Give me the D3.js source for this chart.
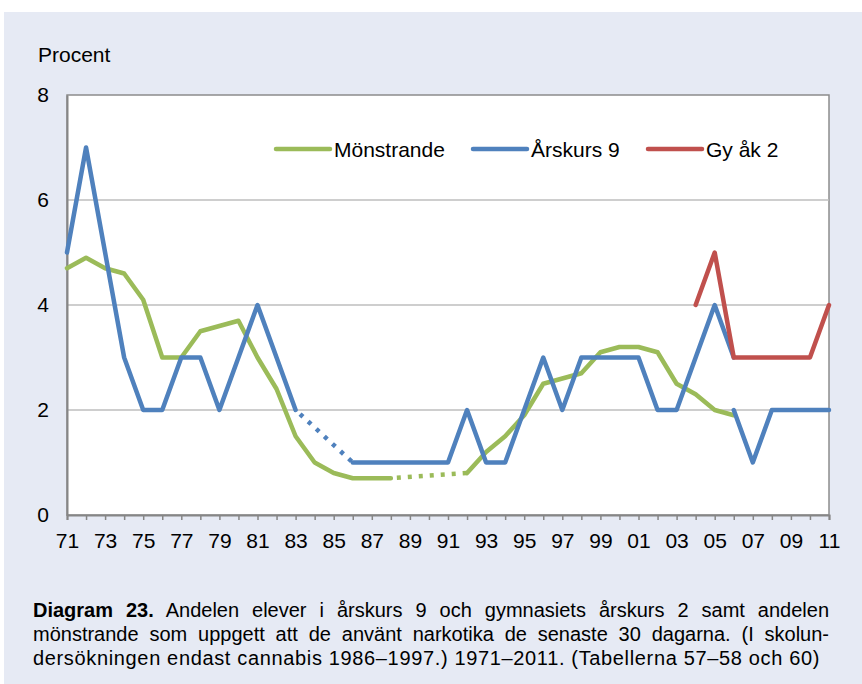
<!DOCTYPE html>
<html>
<head>
<meta charset="utf-8">
<script src="https://cdn.jsdelivr.net/npm/d3@7"></script>
<style>
  body { margin: 0; background: #fff; }
  text { font-family: "Liberation Sans", Arial, sans-serif; fill: #000; }
</style>
</head>
<body>
<svg id="drawing_region"></svg>
<script>
// years on the x axis, 1971-2011
const years = d3.range(1971, 2012);
const yTicks = [0, 2, 4, 6, 8];

// null = no value (gaps inside a series are bridged with a dotted line)
const monstrande = [4.7, 4.9, 4.7, 4.6, 4.1, 3.0, 3.0, 3.5, 3.6, 3.7, 3.0, 2.4, 1.5, 1.0, 0.8, 0.7, 0.7, 0.7,
  null, null, null, 0.8, 1.2, 1.5, 1.9, 2.5, 2.6, 2.7, 3.1, 3.2, 3.2, 3.1, 2.5, 2.3, 2.0, 1.9,
  null, null, null, null, null];
const arskurs9 = [5, 7, 5, 3, 2, 2, 3, 3, 2, 3, 4, 3, 2, null, null, 1, 1, 1, 1, 1, 1, 2, 1, 1, 2, 3, 2, 3, 3, 3, 3, 2, 2, 3, 4, 3,
  null, null, null, null, null];
// new measurement series from 2006
const arskurs9b = [null, null, null, null, null, null, null, null, null, null, null, null, null, null, null, null, null, null, null, null,
  null, null, null, null, null, null, null, null, null, null, null, null, null, null, null, 2, 1, 2, 2, 2, 2];
const gyAk2 = [null, null, null, null, null, null, null, null, null, null, null, null, null, null, null, null, null, null, null, null,
  null, null, null, null, null, null, null, null, null, null, null, null, null, 4, 5, 3, 3, 3, 3, 3, 4];

const seriesNames = ['Mönstrande', 'Årskurs 9', 'Gy åk 2'];
const seriesColors = ['#9BBB59', '#4F81BD', '#C0504D'];

const captionBold = 'Diagram 23.';
const captionLines = [
  ' Andelen elever i årskurs 9 och gymnasiets årskurs 2 samt andelen',
  'mönstrande som uppgett att de använt narkotika de senaste 30 dagarna. (I skolun-',
  'dersökningen endast cannabis 1986–1997.) 1971–2011. (Tabellerna 57–58 och 60)'
];

const W = 862, H = 684;
const margin = {left: 67, right: 33, top: 95, bottom: 169};
const FONT = '"Liberation Sans", Arial, sans-serif';
const svg = d3.select('#drawing_region').attr('width', W).attr('height', H);

svg.append('rect').attr('x', 4).attr('y', 12).attr('width', W - 4).attr('height', H - 12).attr('fill', '#E6EAF4');

const x = d3.scaleLinear().domain([1971, 2011]).range([margin.left, W - margin.right]);
const y = d3.scaleLinear().domain([0, 8]).range([H - margin.bottom, margin.top]);

// plot area
svg.append('rect')
  .attr('x', x(1971)).attr('y', y(8))
  .attr('width', x(2011) - x(1971)).attr('height', y(0) - y(8))
  .attr('fill', '#fff').attr('stroke', '#8c8c8c').attr('stroke-width', 1.5);

// grid
svg.append('g').selectAll('line').data(yTicks.filter(d => d > 0 && d < 8)).enter().append('line')
  .attr('x1', x(1971)).attr('x2', x(2011))
  .attr('y1', d => y(d)).attr('y2', d => y(d))
  .attr('stroke', '#BEBEBE').attr('stroke-width', 1.5);

// axes
const yAxis = svg.append('g').attr('transform', `translate(${x(1971)},0)`)
  .call(d3.axisLeft(y).tickValues(yTicks).tickSize(0).tickPadding(18));
yAxis.select('.domain').attr('stroke', '#868686').attr('stroke-width', 2);
yAxis.selectAll('text').attr('font-size', 21).attr('font-family', FONT).attr('fill', '#000');

const xAxis = svg.append('g').attr('transform', `translate(0,${y(0)})`)
  .call(d3.axisBottom(x).tickValues(years).tickSize(5).tickPadding(13)
    .tickFormat(d => (d - 1971) % 2 === 0 ? String(d).slice(2) : ''));
xAxis.select('.domain').attr('stroke', '#868686').attr('stroke-width', 2);
xAxis.selectAll('.tick line').attr('stroke', '#868686').attr('stroke-width', 1.5);
xAxis.selectAll('text').attr('font-size', 21).attr('font-family', FONT).attr('fill', '#000');

svg.append('text').attr('x', 38).attr('y', 62).attr('font-size', 21).text('Procent');

// lines
const line = d3.line()
  .defined(d => d.v !== null)
  .x(d => x(d.year)).y(d => y(d.v));

function drawSeries(values, color){
  const pts = years.map((yr, i) => ({year: yr, v: values[i]}));
  svg.append('path')
    .attr('d', line(pts))
    .attr('fill', 'none').attr('stroke', color).attr('stroke-width', 4.5)
    .attr('stroke-linejoin', 'round').attr('stroke-linecap', 'round');
  // dotted bridges over internal gaps
  const def = pts.filter(d => d.v !== null);
  for (let i = 1; i < def.length; i++){
    if (def[i].year - def[i - 1].year > 1){
      svg.append('path')
        .attr('d', d3.line().x(d => x(d.year)).y(d => y(d.v))([def[i - 1], def[i]]))
        .attr('fill', 'none').attr('stroke', color).attr('stroke-width', 4.5)
        .attr('stroke-dasharray', '4,7').attr('stroke-dashoffset', -6);
    }
  }
}
drawSeries(monstrande, seriesColors[0]);
drawSeries(arskurs9, seriesColors[1]);
drawSeries(arskurs9b, seriesColors[1]);
drawSeries(gyAk2, seriesColors[2]);

// legend
const legendX = [276, 473, 648];
const lg = svg.append('g').selectAll('g').data(seriesNames).enter().append('g')
  .attr('transform', (d, i) => `translate(${legendX[i]},149)`);
lg.append('line').attr('x1', 0).attr('x2', 54).attr('y1', 0).attr('y2', 0)
  .attr('stroke', (d, i) => seriesColors[i]).attr('stroke-width', 4.5).attr('stroke-linecap', 'round');
lg.append('text').attr('x', 58).attr('y', 7.5).attr('font-size', 21).text(d => d);

// caption: first two lines justified, last line set to its printed width
const capX = 33, capW = 829 - 33, lastW = 787;
captionLines.forEach((ln, i) => {
  const t = svg.append('text').attr('x', capX).attr('y', 617 + i * 24).attr('font-size', 20);
  if (i === 0) t.append('tspan').attr('font-weight', 'bold').text(captionBold);
  t.append('tspan').text(ln);
  const full = (i === 0 ? captionBold : '') + ln;
  const extra = (i < 2 ? capW : lastW) - t.node().getComputedTextLength();
  if (i < 2){
    const gaps = full.trim().split(/\s+/).length - 1;
    t.style('word-spacing', (extra / gaps) + 'px');
  } else {
    t.style('letter-spacing', (extra / full.length) + 'px');
  }
});
</script>
</body>
</html>
